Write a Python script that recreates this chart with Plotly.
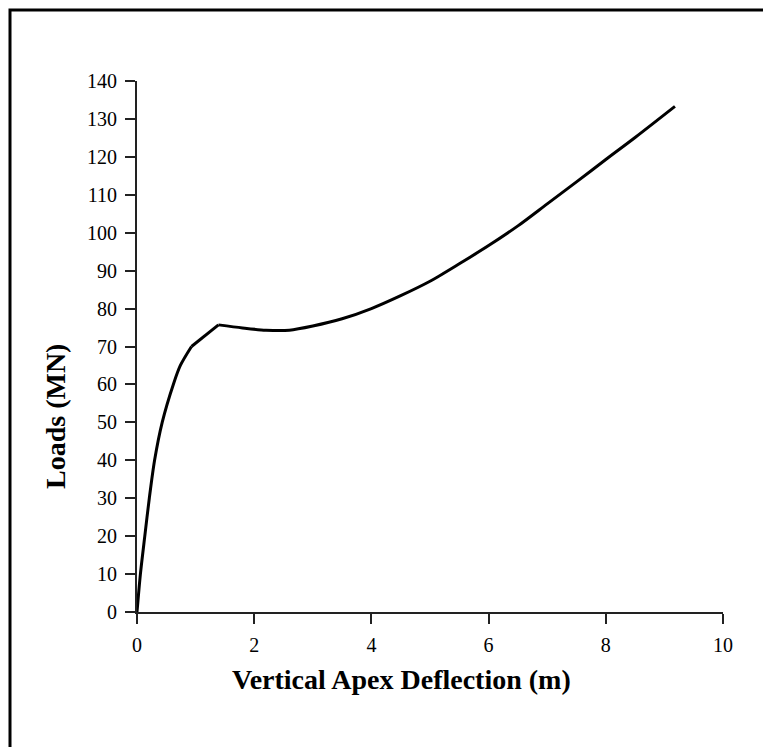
import plotly.graph_objects as go

# Data
# initial elastic rise (curved)
rise_x = [0, 0.058, 0.133, 0.21, 0.30, 0.43, 0.62, 0.74, 0.93]
rise_y = [0, 10, 20, 30, 40, 50, 60, 65, 70.0]
# straight segment up to the local peak
kink_x = [0.93, 1.39]
kink_y = [70.0, 75.7]
# post-peak softening and re-stiffening (curved)
post_x = [1.39, 1.8, 2.2, 2.6, 3.0, 3.5, 4.0, 4.5, 5.0, 5.5, 6.0, 6.5, 7.0,
          7.5, 8.0, 8.5, 9.18]
post_y = [75.7, 74.9, 74.3, 74.3, 75.4, 77.3, 80.0, 83.4, 87.2, 91.8, 96.6,
          101.8, 107.6, 113.4, 119.3, 125.1, 133.3]

x_ticks = [0, 2, 4, 6, 8, 10]
y_ticks = list(range(0, 141, 10))

x_title = "Vertical Apex Deflection (m)"
y_title = "Loads (MN)"

W, H = 771, 747
OFF = 8  # page body margin
L, T = 137 - OFF, 81 - OFF
pw, ph = 723 - 137, 612 - 81
R, B = W - L - pw, H - T - ph

def px(xp):
    return (xp - OFF - L) / pw

def py(yp):
    return (T + ph - (yp - OFF)) / ph

fig = go.Figure()
line_style = dict(color="black", width=3)
fig.add_trace(go.Scatter(x=rise_x, y=rise_y, mode="lines", line=dict(shape="spline", smoothing=0.8, **line_style), showlegend=False))
fig.add_trace(go.Scatter(x=kink_x, y=kink_y, mode="lines", line=line_style, showlegend=False))
fig.add_trace(go.Scatter(x=post_x, y=post_y, mode="lines", line=dict(shape="spline", smoothing=0.8, **line_style), showlegend=False))

axis_common = dict(
    showgrid=False, zeroline=False, showline=True, linecolor="#222",
    linewidth=2, ticks="outside", ticklen=10, tickwidth=2, tickcolor="#222",
    tickfont=dict(family="Liberation Serif", size=20, color="black"),
)

fig.update_xaxes(range=[0, 10], tickvals=x_ticks, ticklabelstandoff=4, **axis_common)
fig.update_yaxes(range=[0, 140], tickvals=y_ticks, ticklabelstandoff=4, **axis_common)

fig.add_annotation(
    text=f"<b>{x_title}</b>", xref="paper", yref="paper",
    x=px(401), y=py(679), xanchor="center", yanchor="middle", showarrow=False,
    font=dict(family="Liberation Serif", size=28, color="black"),
)
fig.add_annotation(
    text=f"<b>{y_title}</b>", xref="paper", yref="paper",
    x=px(56), y=py(417), xanchor="center", yanchor="middle", showarrow=False,
    textangle=-90,
    font=dict(family="Liberation Serif", size=28, color="black"),
)

fig.add_shape(
    type="rect", xref="paper", yref="paper",
    x0=px(10), x1=px(800), y0=py(800), y1=py(10),
    line=dict(color="black", width=3), fillcolor="rgba(0,0,0,0)", layer="below",
)

fig.update_layout(
    width=W, height=H,
    margin=dict(l=L, r=R, t=T, b=B),
    paper_bgcolor="white", plot_bgcolor="white",
)

fig.write_html("out.html")
